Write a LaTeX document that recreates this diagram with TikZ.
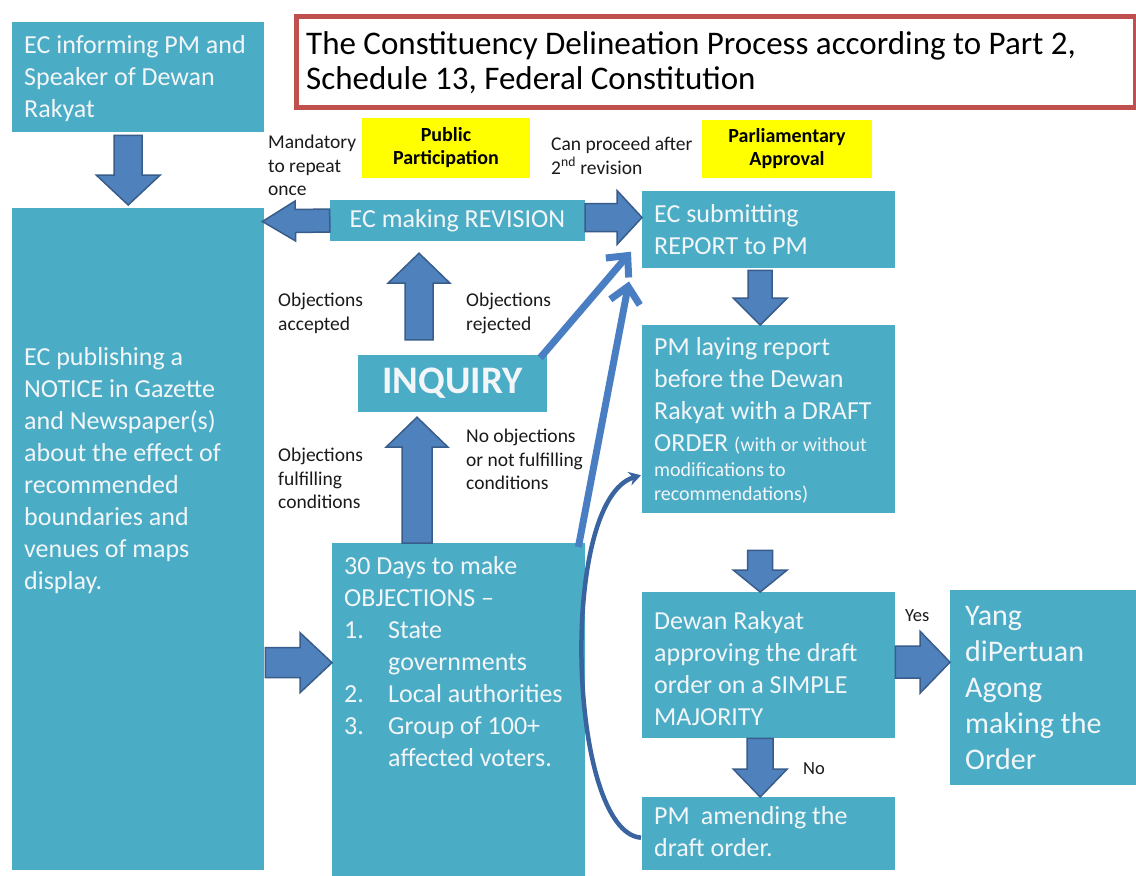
\documentclass[tikz,border=0pt]{standalone}
\usepackage{fontspec}
\setmainfont{Carlito}
\usetikzlibrary{arrows.meta,calc}
\definecolor{boxc}{HTML}{4BACC6}
\definecolor{arrc}{HTML}{4F81BD}
\definecolor{arrl}{HTML}{385D8A}
\definecolor{linec}{HTML}{4A7EC2}
\definecolor{curvec}{HTML}{3A64A0}
\definecolor{titler}{HTML}{C0504D}
\definecolor{wtext}{HTML}{F2F6F8}
\definecolor{ylw}{HTML}{FFFF00}
\definecolor{lblc}{HTML}{1A1A1A}
\newcommand{\barrow}[5]{%
  \path #1 coordinate (bas) #2 coordinate (bae);
  \pgfpointdiff{\pgfpointanchor{bas}{center}}{\pgfpointanchor{bae}{center}}%
  \pgfgetlastxy{\bax}{\bay}%
  \pgfmathsetmacro\balen{veclen(\bax,\bay)}%
  \pgfmathsetmacro\baang{atan2(\bay,\bax)}%
  \begin{scope}[shift={(bas)}, rotate=\baang, x=1pt, y=1pt]
    \draw[blockarrow] (0,-#3) -- (\balen-#5,-#3) -- (\balen-#5,-#4) -- (\balen,0)
      -- (\balen-#5,#4) -- (\balen-#5,#3) -- (0,#3) -- cycle;
  \end{scope}}
\begin{document}
\begin{tikzpicture}[x=1pt,y=-1pt,
  box/.style={fill=boxc, draw=none, inner sep=0pt, anchor=north west},
  cbox/.style={fill=boxc, draw=none, inner sep=0pt, anchor=center, text=wtext},
  bt/.style={anchor=north west, inner sep=0pt, text=wtext, align=left, font=\fontsize{26}{32}\selectfont},
  st/.style={anchor=north west, inner sep=0pt, text=wtext, align=left, font=\fontsize{20}{24}\selectfont},
  lab/.style={anchor=north west, inner sep=0pt, text=lblc, align=left, font=\fontsize{19.5}{23.5}\selectfont},
  ybox/.style={fill=ylw, draw=none, inner sep=0pt, anchor=center, align=center, text=black, font=\fontsize{20}{23}\selectfont\bfseries},
  blockarrow/.style={fill=arrc, draw=arrl, line width=1.5pt, line join=miter},
  thinarrow/.style={draw=linec, line width=7pt, -{Straight Barb[length=16pt,width=30pt]}},
  curvearrow/.style={draw=curvec, line width=4.5pt, -{Stealth[length=12pt,width=14pt]}}]
\useasboundingbox (0,0) rectangle (1136,876);
\fill[white] (0,0) rectangle (1136,876);

% boxes
\node[box, minimum width=252pt, minimum height=110pt] (A) at (12,22) {};
\node[box, minimum width=252pt, minimum height=662pt] (B) at (12,208) {};
\node[box, minimum width=253pt, minimum height=333pt] (obj) at (332,543) {};
\node[box, minimum width=253pt, minimum height=77pt] (rep) at (642,191) {};
\node[box, minimum width=253pt, minimum height=188pt] (lay) at (642,325) {};
\node[box, minimum width=253pt, minimum height=146pt] (dew) at (642,592) {};
\node[box, minimum width=253pt, minimum height=73pt] (amd) at (642,797) {};
\node[box, minimum width=186pt, minimum height=195pt] (yang) at (950,590) {};

\barrow{($(A.south)+(-10,3)$)}{($(B.north)+(-10,-3)$)}{14}{32}{30}

% title
\node[draw=titler, line width=5pt, fill=white, anchor=north west, minimum width=839pt, minimum height=91pt, inner sep=0pt] (title) at (294,14) {};
\node[anchor=north west, inner sep=0pt, align=left, text=black, font=\fontsize{33}{35}\selectfont] (ttext) at (306,31.5) {The Constituency Delineation Process according to Part 2,\\Schedule 13, Federal Constitution};

% single-line boxes
\node[cbox, minimum width=255pt, minimum height=41pt, font=\fontsize{26}{30}\selectfont] (rev) at (457.5,220.5) {EC making REVISION};
\node[cbox, minimum width=189pt, minimum height=57pt, font=\fontsize{39}{42}\selectfont\bfseries] (inq) at (452.5,383.5) {INQUIRY};

\barrow{(rev.west)}{($(B.east |- rev.west)+(-2,1)$)}{11.5}{20}{33}
\barrow{($(rev.east)+(0,-3)$)}{($(rep.west |- rev.east)+(0,-3)$)}{14}{27}{25}
\barrow{($(inq.north)+(-33.5,-15)$)}{($(rev.south)+(-38.5,12)$)}{14}{31}{30}
\barrow{($(inq.south |- obj.north)+(-35.5,0)$)}{($(inq.south)+(-35.5,5)$)}{15}{31}{30}
\barrow{($(rep.south)+(-8.5,2)$)}{($(lay.north)+(-8.5,0)$)}{12}{27}{27}
\barrow{($(lay.south)+(-8.5,37)$)}{($(dew.north)+(-8.5,0)$)}{12.5}{27}{22}
\barrow{($(dew.south)+(-8.5,0)$)}{($(amd.north)+(-8.5,0)$)}{13}{27}{28}
\barrow{($(dew.east)+(0,-3)$)}{($(yang.west |- dew.east)+(0,-3)$)}{16}{31}{30}
\barrow{($(B.east |- obj.west)+(1,-47)$)}{($(obj.west)+(0,-47)$)}{15}{30}{32}

% yellow boxes
\node[ybox, minimum width=168pt, minimum height=60pt] (pp) at (446,148) {Public\\Participation};
\node[ybox, minimum width=170pt, minimum height=58pt] (pa) at (787,149) {Parliamentary\\Approval};

% thin arrows
\draw[thinarrow] ($(inq.north east)+(-7,3)$) -- ($(rep.west)+(-11,22)$);
\draw[thinarrow] ($(obj.north east)+(-7,4)$) -- ($(rep.south west)+(-13,13)$);
% curved arrow
\draw[curvearrow] ($(amd.west)+(-1,4)$) .. controls (568,832) and (558,500) .. ($(lay.west)+(-1,56)$);

% box texts
\node[bt] (tA) at (24,35.5) {EC informing PM and\\Speaker of Dewan\\Rakyat};
\node[bt] (tB) at (24,347.5) {EC publishing a\\NOTICE in Gazette\\and Newspaper(s)\\about the effect of\\recommended\\boundaries and\\venues of maps\\display.};
\node[bt] (tR) at (654,204.5) {EC submitting\\REPORT to PM};
\node[bt] (tL) at (654,337.5) {PM laying report\\before the Dewan\\Rakyat with a DRAFT\\ORDER {\fontsize{20}{24}\selectfont(with or without}};
\node[st] (tL2) at (654,462) {modifications to\\recommendations)};
\node[bt] (tD) at (654,611.5) {Dewan Rakyat\\approving the draft\\order on a SIMPLE\\MAJORITY};
\node[bt] (tM) at (654,806.5) {PM\hspace{0.2em} amending the\\draft order.};
\node[bt, font=\fontsize{30}{36}\selectfont] (tY) at (965,606) {Yang\\diPertuan\\Agong\\making the\\Order};
\node[bt] (tO) at (344,556.5) {30 Days to make\\OBJECTIONS --\\\makebox[44pt][l]{1.}State\\\hspace*{44pt}governments\\\makebox[44pt][l]{2.}Local authorities\\\makebox[44pt][l]{3.}Group of 100+\\\hspace*{44pt}affected voters.};

% labels
\node[lab] (l1) at (268,135) {Mandatory\\to repeat\\once};
\node[lab] (l2) at (551,137) {Can proceed after\\2\textsuperscript{nd} revision};
\node[lab] (l3) at (278,293) {Objections\\accepted};
\node[lab] (l4) at (466,293) {Objections\\rejected};
\node[lab] (l5) at (278,448) {Objections\\fulfilling\\conditions};
\node[lab] (l6) at (466,429) {No objections\\or not fulfilling\\conditions};
\node[lab, font=\fontsize{18.5}{22}\selectfont] (l7) at (905,609) {Yes};
\node[lab, font=\fontsize{18.5}{22}\selectfont] (l8) at (803,762) {No};
\end{tikzpicture}
\end{document}
